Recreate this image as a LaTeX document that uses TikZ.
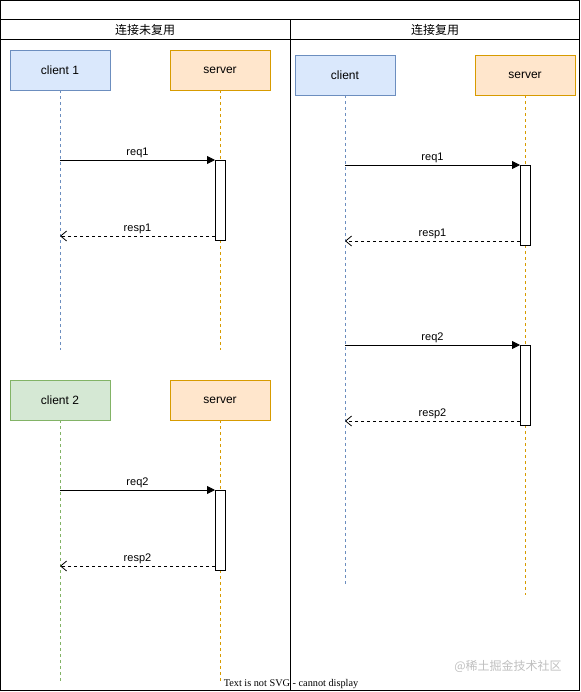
\documentclass[tikz,border=0pt]{standalone}
\usepackage{fontspec}
\setmainfont{Liberation Sans}
\newfontfamily\cjk{Noto Sans CJK SC}
\newfontfamily\timesfont{Liberation Serif}
\usetikzlibrary{arrows.meta,positioning}
\definecolor{clientblue}{HTML}{DAE8FC}
\definecolor{clientblueline}{HTML}{6C8EBF}
\definecolor{clientgreen}{HTML}{D5E8D4}
\definecolor{clientgreenline}{HTML}{82B366}
\definecolor{serverorange}{HTML}{FFE6CC}
\definecolor{serverorangeline}{HTML}{D79B00}

\begin{document}
\begin{tikzpicture}[x=0.75pt,y=-0.75pt,
  actor/.style={draw,line width=0.6pt,minimum width=75pt,minimum height=30pt,
        inner sep=0pt,font=\fontsize{9}{11}\selectfont},
  lifeline/.style={dash pattern=on 2.25pt off 2.25pt,line width=0.6pt},
  actbar/.style={draw,fill=white,line width=0.6pt,minimum width=7.5pt,minimum height=60pt,
        inner sep=0pt,outer sep=0pt},
  reqarrow/.style={line width=0.6pt,-{Triangle[length=6pt,width=6pt]}},
  resparrow/.style={line width=0.6pt,dash pattern=on 2.25pt off 2.25pt,
        -{Straight Barb[length=4.5pt,width=7.5pt]}},
  msg/.style={font=\fontsize{8.25}{10}\selectfont,inner sep=1pt,anchor=south}]
  \useasboundingbox (0,0) rectangle (581,692);

  % 外框与表头
  \draw[line width=0.75pt] (0.5,0.5) rectangle (579.5,690);
  \draw[line width=0.75pt] (0.5,20) -- (579.5,20);
  \draw[line width=0.75pt] (0.5,40) -- (579.5,40);
  \draw[line width=0.75pt] (290,20) -- (290,690);
  \node[font=\cjk\fontsize{9}{11}\selectfont] (headA) at (145,30) {连接未复用};
  \node[font=\cjk\fontsize{9}{11}\selectfont] (headB) at (435,30) {连接复用};

  % 左侧：连接未复用（上）
  \node[actor,fill=clientblue,draw=clientblueline] (cli1) at (60,70) {client 1};
  \node[actor,fill=serverorange,draw=serverorangeline] (srv1) at (220,70) {server};
  \coordinate (cli1end) at (60,350);
  \coordinate (srv1end) at (220,350);
  \draw[lifeline,clientblueline] (cli1) -- (cli1end);
  \draw[lifeline,serverorangeline] (srv1) -- (srv1end);
  \node[actbar] (act1) at (220,200) {};
  \coordinate (cli1req) at (60,160);
  \coordinate (cli1resp) at (60,236);
  \draw[reqarrow] (cli1req) -- node[msg] {req1} (act1.north west);
  \draw[resparrow] (act1.west |- cli1resp) -- node[msg] {resp1} (cli1resp);

  % 左侧：连接未复用（下）
  \node[actor,fill=clientgreen,draw=clientgreenline] (cli2) at (60,400) {client 2};
  \node[actor,fill=serverorange,draw=serverorangeline] (srv2) at (220,400) {server};
  \coordinate (cli2end) at (60,681);
  \coordinate (srv2end) at (220,681);
  \draw[lifeline,clientgreenline] (cli2) -- (cli2end);
  \draw[lifeline,serverorangeline] (srv2) -- (srv2end);
  \node[actbar] (act2) at (220,530) {};
  \coordinate (cli2req) at (60,490);
  \coordinate (cli2resp) at (60,566);
  \draw[reqarrow] (cli2req) -- node[msg] {req2} (act2.north west);
  \draw[resparrow] (act2.west |- cli2resp) -- node[msg] {resp2} (cli2resp);

  % 右侧：连接复用
  \node[actor,fill=clientblue,draw=clientblueline] (cli) at (345,75) {client};
  \node[actor,fill=serverorange,draw=serverorangeline] (srv) at (525,75) {server};
  \coordinate (cliend) at (345,584);
  \coordinate (srvend) at (525,595);
  \draw[lifeline,clientblueline] (cli) -- (cliend);
  \draw[lifeline,serverorangeline] (srv) -- (srvend);
  \node[actbar] (act3) at (525,205) {};
  \node[actbar] (act4) at (525,385) {};
  \coordinate (clireqA) at (345,165);
  \coordinate (clirespA) at (345,241);
  \coordinate (clireqB) at (345,345);
  \coordinate (clirespB) at (345,421);
  \draw[reqarrow] (clireqA) -- node[msg] {req1} (act3.north west);
  \draw[resparrow] (act3.west |- clirespA) -- node[msg] {resp1} (clirespA);
  \draw[reqarrow] (clireqB) -- node[msg] {req2} (act4.north west);
  \draw[resparrow] (act4.west |- clirespB) -- node[msg] {resp2} (clirespB);

  % 底部文字
  \node[font=\timesfont\fontsize{7.7}{9}\selectfont,inner sep=0pt] (nosvg) at (291,684.5) {Text is not SVG - cannot display};
  \node[font=\cjk\fontsize{9}{11}\selectfont,text=black!25,inner sep=0pt] (mark) at (508,666) {@稀土掘金技术社区};
\end{tikzpicture}
\end{document}
